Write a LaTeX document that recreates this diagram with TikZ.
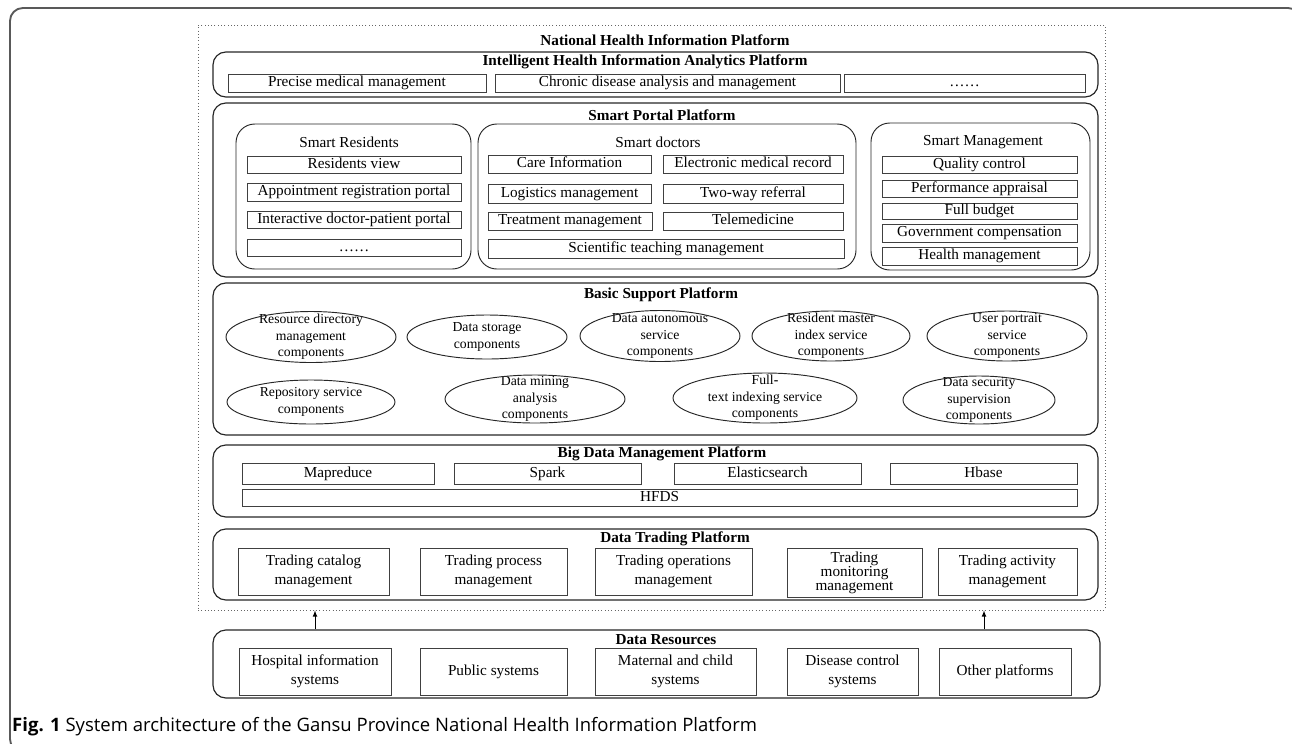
\documentclass[tikz,border=0pt]{standalone}
\usepackage{fontspec}
\setmainfont{Liberation Serif}
\newfontfamily\capfont{Open Sans}

\tikzset{
    spot/.style args = {#1,#2,#3,#4}{minimum width = {(#3-#1)*0.03cm},
        minimum height = {(#4-#2)*0.03cm}, at = {({(#1+#3)/2},{(#2+#4)/2})}},
    plat/.style = {draw = black!85, line width = 1pt, rounded corners = 11pt, inner sep = 0pt},
    grp/.style = {draw = black!85, line width = 0.8pt, rounded corners = 16pt, inner sep = 0pt},
    item/.style = {draw = black!75, line width = 0.8pt, inner sep = 0pt,
        font = \fontsize{13}{14}\selectfont, text height = 9pt, text depth = 2.6pt},
    cell/.style = {draw = black!75, line width = 0.8pt, inner sep = 0pt, align = center,
        font = \fontsize{13}{16}\selectfont},
    ttl/.style = {inner sep = 0pt, font = \fontsize{13}{14}\selectfont\bfseries},
    sub/.style = {inner sep = 0pt, font = \fontsize{13}{14}\selectfont},
    comp/.style = {inner sep = 0pt, align = center, font = \fontsize{11.7}{14}\selectfont},
    oval/.style = {draw = black!85, line width = 0.8pt}
}

\begin{document}
\begin{tikzpicture}[x = 0.03cm, y = -0.03cm]
    \useasboundingbox (0,0) rectangle (1292,743);
    \begin{scope}
        \clip (0,0) rectangle (1292,743);
        \draw[black!65, line width = 1.6pt, rounded corners = 11pt] (10,8) rectangle (1301,752);
    \end{scope}

    \node[draw = black!60, dotted, line width = 0.8pt, inner sep = 0pt, spot = {198,25,1105,610}] (nhip) {};
    \node[ttl] (nhipt) at (665,40) {National Health Information Platform};

    % analytics
    \node[plat, spot = {213,52,1098,97}] (ihap) {};
    \node[ttl] (ihapt) at (645,62) {Intelligent Health Information Analytics Platform};
    \node[item, spot = {228,74,486,92}] (pmm) {Precise medical management};
    \node[item, spot = {495,74,840,92}] (cdam) {Chronic disease analysis and management};
    \node[item, spot = {844,74,1085,92}] (more1) {……};

    % portal
    \node[plat, spot = {213,103,1098,277}] (spp) {};
    \node[ttl] (sppt) at (662,115) {Smart Portal Platform};

    \node[grp, spot = {236,124,471,269}] (sres) {};
    \node[sub] (srest) at (349,142) {Smart Residents};
    \node[item, spot = {247,156,461,173}] (rv) {Residents view};
    \node[item, spot = {247,183,461,201}] (arp) {Appointment registration portal};
    \node[item, spot = {247,211,461,228}] (idpp) {Interactive doctor-patient portal};
    \node[item, spot = {247,239,461,256}] (more2) {……};

    \node[grp, spot = {478,124,856,269}] (sdoc) {};
    \node[sub] (sdoct) at (658,142) {Smart doctors};
    \node[item, spot = {488,155,651,173}] (ci) {Care Information};
    \node[item, spot = {663,155,843,173}] (emr) {Electronic medical record};
    \node[item, spot = {488,184,651,203}] (lm) {Logistics management};
    \node[item, spot = {663,184,843,203}] (twr) {Two-way referral};
    \node[item, spot = {488,212,652,230}] (tm) {Treatment management};
    \node[item, spot = {663,212,843,230}] (tel) {Telemedicine};
    \node[item, spot = {488,239,844,258}] (stm) {Scientific teaching management};

    \node[grp, spot = {871,123,1090,270}] (smgt) {};
    \node[sub] (smgtt) at (983,142) {Smart Management};
    \node[item, spot = {882,156,1077,173}] (qc) {Quality control};
    \node[item, spot = {882,180,1077,197}] (pa) {Performance appraisal};
    \node[item, spot = {882,203,1077,219}] (fb) {Full budget};
    \node[item, spot = {882,224,1077,242}] (gc) {Government compensation};
    \node[item, spot = {882,247,1077,265}] (hm) {Health management};

    % basic support
    \node[plat, spot = {213,283,1098,435}] (bsp) {};
    \node[ttl] (bspt) at (661,295) {Basic Support Platform};
    \node[comp] (rdm) at (311,337) {Resource directory\\management\\components};
    \node[comp] (dsc) at (487,337) {Data storage\\components};
    \node[comp] (dasc) at (660,336) {Data autonomous\\service\\components};
    \node[comp] (rmis) at (831,336) {Resident master\\index service\\components};
    \node[comp] (ups) at (1007,336) {User portrait\\service\\components};
    \node[comp] (rsc) at (311,402) {Repository service\\components};
    \node[comp] (dmac) at (535,399) {Data mining\\analysis\\components};
    \node[comp] (ftis) at (765,398) {Full\textbf{-}\\text indexing service\\components};
    \node[comp] (dssc) at (979,400) {Data security\\supervision\\components};
    \draw[oval] (rdm) ellipse [x radius = 85, y radius = 25.5];
    \draw[oval] (dsc) ellipse [x radius = 80, y radius = 22];
    \draw[oval] (dasc) ellipse [x radius = 80, y radius = 25.5];
    \draw[oval] (rmis) ellipse [x radius = 79, y radius = 25];
    \draw[oval] (ups) ellipse [x radius = 80, y radius = 25];
    \draw[oval] (rsc) ellipse [x radius = 84, y radius = 22];
    \draw[oval] (dmac) ellipse [x radius = 90, y radius = 24];
    \draw[oval] (ftis) ellipse [x radius = 92, y radius = 25];
    \draw[oval] (dssc) ellipse [x radius = 76, y radius = 24];

    % big data
    \node[plat, spot = {213,445,1098,517}] (bdmp) {};
    \node[ttl] (bdmpt) at (662,454) {Big Data Management Platform};
    \node[item, spot = {242,463,434,484}] (mr) {Mapreduce};
    \node[item, spot = {454,463,641,484}] (spk) {Spark};
    \node[item, spot = {674,463,861,484}] (es) {Elasticsearch};
    \node[item, spot = {890,463,1077,484}] (hb) {Hbase};
    \node[item, spot = {242,489,1077,506}] (hfds) {HFDS};

    % trading
    \node[plat, spot = {213,529,1098,600}] (dtp) {};
    \node[ttl] (dtpt) at (675,539) {Data Trading Platform};
    \node[cell, spot = {238,548,389,595}] (tcm) {Trading catalog\\management};
    \node[cell, spot = {420,548,567,595}] (tpm) {Trading process\\management};
    \node[cell, spot = {595,548,752,595}] (tom) {Trading operations\\management};
    \node[cell, spot = {787,548,922,597}, font = \fontsize{13}{12}\selectfont] (tmm) {Trading\\monitoring\\management};
    \node[cell, spot = {938,548,1077,595}] (tam) {Trading activity\\management};

    % resources
    \node[plat, spot = {213,630,1100,698}] (dr) {};
    \node[ttl] (drt) at (666,640) {Data Resources};
    \node[cell, spot = {239,648,391,695}] (his) {Hospital information\\systems};
    \node[cell, spot = {420,648,567,695}] (pubs) {Public systems};
    \node[cell, spot = {595,648,756,695}] (mcs) {Maternal and child\\systems};
    \node[cell, spot = {787,648,918,695}] (dcs) {Disease control\\systems};
    \node[cell, spot = {939,648,1071,695}] (op) {Other platforms};

    \coordinate (upl) at (315,620);
    \coordinate (upr) at (984,620);
    \draw[-latex, line width = 0.8pt] (dr.north -| upl) -- (nhip.south -| upl);
    \draw[-latex, line width = 0.8pt] (dr.north -| upr) -- (nhip.south -| upr);

    \node[anchor = west, inner sep = 0pt, font = \capfont\fontsize{15.8}{18}\selectfont] (cap) at (12,727)
        {\textbf{Fig. 1} System architecture of the Gansu Province National Health Information Platform};
\end{tikzpicture}
\end{document}
